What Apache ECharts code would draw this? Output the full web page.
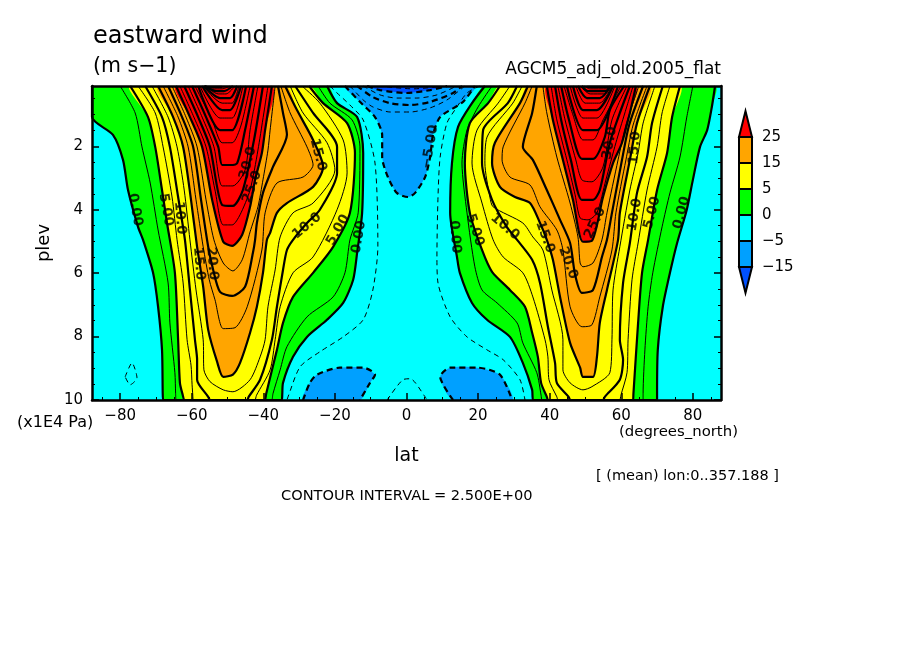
<!DOCTYPE html>
<html><head><meta charset="utf-8">
<style>html,body{margin:0;padding:0;background:#fff}#c{width:904px;height:654px}</style>
<script src="https://cdn.jsdelivr.net/npm/echarts@6/dist/echarts.min.js"></script>
</head><body><div id="c"></div>
<script>
// Axis values
const latMin = -87.86, latMax = 87.86, plevMin = 0.1, plevMax = 10;
const latTicks = [-80,-60,-40,-20,0,20,40,60,80];
const latMinor = [-85,-75,-70,-65,-55,-50,-45,-35,-30,-25,-15,-10,-5,5,10,15,25,30,35,45,50,55,65,70,75,85];
const plevTicks = [2,4,6,8,10];
const plevMinor = [0.5,1,1.5,2.5,3,3.5,4.5,5,5.5,6.5,7,7.5,8.5,9,9.5];
const legendTicks = ['-15','-5','0','5','15','25'];

// Contours: [lat, plev]  (southern hemisphere)
const sh0=[[-87.86,.1],[-87.86,1.08],[-82,1.64],[-79.2,2.43],[-77.8,3.38],[-75,4.54],[-73.6,4.95],[-70.8,5.99],[-69.4,7.06],[-68.3,8.42],[-68.1,9.8],[-68,10],[-67.8,10],[-35,10],[-34.8,10],[-34.7,9.8],[-34.5,9.46],[-31.7,8.64],[-27.8,8.01],[-22.2,7.47],[-17.7,6.94],[-14.9,6.21],[-13.8,5.36],[-12.4,4.1],[-12.1,2.21],[-13.8,1.08],[-19.4,.64],[-22.2,.1]];
const sh2_5=[[-80,.1],[-75.8,.95],[-73.9,2.02],[-71.6,3.16],[-69.4,4.64],[-66.6,6.31],[-66.1,7.57],[-64.7,9.14],[-64.5,9.8],[-64.4,10],[-64.2,10],[-37.8,10],[-37.6,10],[-37.3,9.8],[-35.3,9.05],[-33.4,8.32],[-27.8,7.38],[-20.5,6.75],[-17.2,5.99],[-15.8,4.95],[-13.5,4.1],[-13,2.02],[-15.2,1.17],[-21.4,.64],[-24.7,.1]];
const sh5=[[-77.2,.1],[-72.2,1.08],[-70.2,2.02],[-68.3,3.38],[-66.9,4.42],[-64.7,5.99],[-63.8,8.1],[-63.3,9.46],[-62.5,9.85],[-62.1,10],[-61.9,10],[-39.7,10],[-39.5,10],[-39.2,9.8],[-36.2,8.42],[-34.5,7.57],[-31.7,6.75],[-26.1,5.99],[-20.5,5.17],[-15.8,4.1],[-14.4,2.21],[-16.6,1.27],[-23.3,.64],[-27.2,.1]];
const sh7_5=[[-75,.1],[-70.2,.95],[-68,2.02],[-65.5,3.6],[-64.1,4.95],[-62.4,6.31],[-61.3,8.1],[-60.2,8.9],[-59.9,9.52],[-59.7,9.85],[-59.6,10],[-59.4,10],[-42.5,10],[-42.3,10],[-41.9,9.85],[-38.1,9.05],[-36.7,8.1],[-35.3,7.06],[-31.7,5.99],[-26.1,5.49],[-19.4,4],[-16.6,2.84],[-17.7,1.8],[-24.2,.64],[-29.2,.1]];
const sh10=[[-73,.1],[-68.3,1.08],[-66.1,2.02],[-63.8,3.6],[-61.9,4.95],[-60.5,6.53],[-59.1,8.1],[-58.5,8.73],[-58.5,9.36],[-55.4,9.9],[-54.9,10],[-54.6,10],[-44.8,10],[-44.5,10],[-44.1,9.9],[-40.9,9.36],[-37.6,8.1],[-36.2,7.06],[-34.5,5.9],[-33.4,5.27],[-31.7,4.95],[-27.8,4.42],[-24.2,4],[-19.4,2.84],[-19.4,2.02],[-26.1,.95],[-31.1,.1]];
const sh12_5=[[-71.1,.1],[-66.6,1.08],[-64.1,2.02],[-62.1,3.38],[-60.5,4.95],[-58.8,6.53],[-56.8,8.1],[-56.6,9.05],[-54.9,9.42],[-51.2,9.68],[-48.5,9.74],[-43.7,9.36],[-40.9,8.64],[-39.5,8.1],[-38.7,7.06],[-36.7,5.9],[-35.3,4.86],[-31.7,4.1],[-26.1,3.79],[-20,2.75],[-22.2,1.89],[-28.9,.95],[-32.5,.1]];
const sh15=[[-69.4,.1],[-65.2,1.08],[-62.4,2.02],[-60.2,3.69],[-58.5,5.17],[-56.8,6.43],[-55.4,7.79],[-52.9,8.8],[-51.2,9.27],[-48.5,9.2],[-46.5,8.83],[-43.7,7.88],[-41.8,7.06],[-40.1,5.99],[-39,4.95],[-38.1,4.73],[-36.2,4.1],[-33.4,3.79],[-26.1,3.28],[-23.3,2.65],[-26.1,1.8],[-30.6,.86],[-33.9,.1]];
const sh17_5=[[-68,.1],[-63.8,1.08],[-61,2.02],[-58.8,3.69],[-56.8,5.17],[-55.1,6.21],[-53.5,6.84],[-51.2,7.75],[-47.9,7.72],[-44.5,7.06],[-40.4,5.27],[-39.5,4.1],[-36.2,3.16],[-28.9,2.97],[-26.1,2.59],[-27.8,2.02],[-32.5,.95],[-35.1,.1]];
const sh20=[[-66.6,.1],[-62.7,1.08],[-59.6,2.02],[-57.4,3.69],[-55.4,5.17],[-54,5.9],[-52.1,6.59],[-48.7,6.72],[-45.1,6.43],[-42.9,5.36],[-42.3,4.95],[-41.8,4.42],[-40.1,3.47],[-37.3,2.65],[-33.4,1.64],[-34.5,.95],[-35.9,.1]];
const sh22_5=[[-65.5,.1],[-61.6,1.08],[-58.5,2.02],[-56,3.69],[-53.8,4.95],[-51.2,5.68],[-48.5,5.93],[-45.9,5.58],[-43.7,4.7],[-41.5,3.91],[-40.1,3.06],[-38.7,2.12],[-38.1,1.49],[-36.7,.1]];
const sh25=[[-64.4,.1],[-60.5,1.08],[-57.1,2.02],[-54.3,3.69],[-51.2,5.01],[-48.7,5.14],[-45.9,4.79],[-43.7,3.91],[-42.3,3.06],[-40.4,2.21],[-39.5,1.49],[-37.6,.1]];
const sh27_5=[[-63.3,.1],[-59.4,1.08],[-56,2.02],[-53.5,3.38],[-51.2,4.48],[-48.7,4.48],[-46.5,4.16],[-43.7,3.38],[-41.5,2.12],[-38.7,.1]];
const sh30=[[-62.1,.1],[-58.2,1.08],[-54.9,2.02],[-51.5,3.85],[-48.5,3.88],[-45.7,3.38],[-42.6,1.8],[-40.1,.1]];
const sh32_5=[[-61,.1],[-57.1,1.08],[-53.8,2.02],[-51.5,3.25],[-48.5,3.25],[-45.1,2.75],[-43.7,1.49],[-41.5,.1]];
const sh35=[[-59.9,.1],[-56,1.08],[-52.6,2.02],[-51.5,2.59],[-49.3,2.59],[-47.3,2.53],[-45.1,1.49],[-42.6,.1]];
const sh37_5=[[-59.1,.1],[-54.3,1.17],[-51.5,1.89],[-48.7,1.89],[-46.2,1.33],[-43.7,.1]];
const sh40=[[-58.2,.1],[-52.1,1.49],[-48.7,1.49],[-44.8,.1]];
const sh42_5=[[-57.7,.1],[-52.1,1.11],[-48.7,1.11],[-45.7,.1]];
const sh45=[[-57.1,.1],[-51.5,.86],[-49.3,.86],[-46.2,.1]];
const sh47_5=[[-56.8,.1],[-51.5,.64],[-48.7,.64],[-46.8,.1]];
const sh50=[[-56.6,.1],[-52.1,.48],[-49.3,.48],[-47.3,.1]];
const sh52_5=[[-56.3,.1],[-52.6,.35],[-50.4,.35],[-47.9,.1]];
const sh55=[[-56.3,.1],[-53.2,.26],[-51,.26],[-48.5,.1]];
const sh57_5=[[-56.3,.1],[-54.3,.19],[-51.5,.19],[-49.3,.1]];
const sh60=[[-56.3,.13],[-51.5,.13]];

// northern hemisphere
const nh0=[[21.9,.1],[18.3,.64],[14.4,1.39],[12.7,2.53],[12.2,4.1],[14.1,5.49],[14.9,5.99],[18.3,6.94],[22.5,7.47],[28.9,8.01],[32.5,8.83],[35.1,9.68],[35.2,9.85],[35.3,10],[35.5,10],[69.8,10],[70,10],[70,9.8],[70.2,8.42],[71.6,7.06],[73.6,5.99],[75.6,5.05],[78.3,4],[80,3.06],[82,2.02],[84,1.49],[85.3,.76],[86.2,.1]];
const nh2_5=[[23.9,.1],[20,.76],[16.9,1.49],[15.5,2.53],[16.9,4.1],[19.1,5.8],[21.1,6.53],[25.3,6.94],[30.9,7.57],[32.5,8.2],[36.4,9.14],[37.6,9.85],[37.8,10],[38,10],[65.9,10],[66.1,10],[66.1,9.8],[66.6,8.42],[67.5,7.06],[68.8,5.99],[71.4,4.54],[73.6,3.47],[76.4,2.34],[78.3,1.08],[80,.1]];
const nh5=[[26.1,.1],[22.8,.64],[17.7,1.27],[16.3,2.53],[17.7,4.1],[21.1,5.27],[23.9,5.96],[28.9,6.53],[33.1,7.06],[35.1,7.88],[36.7,8.64],[37.6,9.46],[39.2,9.9],[39.5,10],[39.7,10],[63.1,10],[63.3,10],[63.4,9.8],[64.7,7.57],[65.8,5.99],[67.5,4.95],[70,3.38],[72.8,2.21],[74.2,1.08],[76.4,.1]];
const nh7_5=[[28.9,.1],[25.6,.64],[19.7,1.49],[18.3,2.53],[21.1,3.79],[24.2,4.95],[27,5.49],[32.5,5.99],[35.3,6.75],[38.7,8.1],[39.5,8.64],[39.8,9.36],[42,9.9],[42.3,10],[42.5,10],[59.4,10],[59.6,10],[59.9,9.85],[61.6,9.14],[61.9,8.1],[63,6.21],[64.7,5.05],[67.2,3.38],[70,2.02],[71.4,.95],[73.6,.1]];
const nh10=[[30.9,.1],[28.3,.64],[21.4,1.49],[21.1,2.53],[23.9,3.69],[28,4.54],[30.9,4.95],[35.1,5.58],[37.3,6.31],[39.5,7.69],[41.5,8.83],[42,9.46],[45.3,9.9],[45.7,10],[46,10],[54.6,10],[54.9,10],[55.4,9.9],[59.6,9.36],[60.5,8.73],[59.6,8.1],[60.5,6.31],[62.4,5.05],[64.4,3.47],[67.2,2.34],[68.6,1.27],[71.6,.1]];
const nh12_5=[[32.3,.1],[29.7,.64],[22.5,1.71],[21.9,2.53],[23.3,3.6],[24.2,3.91],[32.5,4.42],[35.3,4.86],[38.1,5.27],[40.6,6.53],[43.7,8.1],[43.7,9.05],[45.7,9.46],[49.3,9.68],[51.8,9.58],[56.8,9.14],[57.4,8.1],[57.7,6.53],[59.6,5.17],[62.4,3.38],[64.7,2.21],[66.1,1.27],[69.4,.1]];
const nh15=[[33.9,.1],[31.7,.64],[24.7,1.89],[23.9,2.53],[26.1,3.28],[30.3,3.6],[34.5,3.79],[37.3,4.42],[39.2,4.95],[40.9,5.58],[42.9,6.75],[45.7,8.2],[48.5,8.98],[49.3,9.27],[52.1,9.27],[53.2,8.64],[54,7.57],[56,6.53],[59.1,4.95],[59.6,4.1],[62.4,2.43],[64.4,1.27],[68,.1]];
const nh17_5=[[35.1,.1],[33.1,.64],[27,2.02],[26.7,2.43],[28.9,2.97],[34.5,3.22],[37.3,3.91],[42,4.64],[43.7,5.27],[45.7,7.06],[49,7.69],[51.8,7.63],[54,6.75],[57.4,5.27],[58.5,4.1],[61.3,2.43],[63.3,1.33],[67.2,.1]];
const nh20=[[36.4,.1],[35.1,.95],[32.5,2.02],[35.3,2.43],[39.2,3.38],[42.9,4.32],[45.7,5.05],[47.1,6.05],[49,6.62],[52.1,6.53],[54.6,5.49],[56,4.95],[57.4,4.1],[60.2,2.43],[62.2,1.33],[66.1,.1]];
const nh22_5=[[38.1,.1],[39.2,.95],[42,2.34],[45.7,3.79],[47.9,4.86],[48.5,5.68],[49.3,5.8],[52.1,5.68],[54.6,4.95],[56,4.1],[59.1,2.43],[61.3,1.33],[64.9,.1]];
const nh25=[[39.2,.1],[40.9,1.17],[43.7,2.43],[46.5,3.69],[49.3,5.01],[51.8,4.98],[54.9,3.6],[57.7,2.53],[60.2,1.89],[62.4,.95],[64.1,.1]];
const nh27_5=[[40.4,.1],[42,1.17],[44.8,2.43],[47.1,3.53],[48.5,4.26],[50.7,4.32],[53.2,4.1],[55.7,3.06],[58.5,1.89],[61,.95],[63.3,.1]];
const nh30=[[41.5,.1],[43.2,1.17],[45.9,2.43],[49,3.69],[52.1,3.69],[54,3.38],[56.8,1.89],[59.6,.95],[62.4,.1]];
const nh32_5=[[42.3,.1],[44.3,1.17],[47.3,2.43],[49,3.06],[51.8,3.12],[54.9,2.65],[57.4,1.17],[61.6,.1]];
const nh35=[[43.2,.1],[45.4,1.17],[49,2.4],[52.1,2.4],[55.4,1.71],[56.8,.86],[60.8,.1]];
const nh37_5=[[44,.1],[46.5,1.01],[49.3,1.8],[52.1,1.8],[54.9,1.17],[59.9,.1]];
const nh40=[[44.8,.1],[49.3,1.49],[53.2,1.49],[59.1,.1]];
const nh42_5=[[45.7,.1],[49.3,1.11],[53.2,1.11],[58.2,.1]];
const nh45=[[46.5,.1],[49.3,.86],[53.2,.86],[57.7,.1]];
const nh47_5=[[47.3,.1],[49.9,.64],[54,.64],[57.4,.1]];
const nh50=[[47.9,.1],[50.4,.48],[54,.48],[57.1,.1]];
const nh52_5=[[48.5,.1],[51.3,.35],[55.2,.35],[56.8,.1]];
const nh55=[[49,.1],[50.7,.26],[55.7,.26],[56.8,.1]];
const nh57_5=[[49.6,.1],[51.3,.19],[56,.19],[56.6,.1]];
const nh60=[[50.4,.13],[56.3,.13]];

// easterlies
const neg2_5a=[[-21.4,.1],[-19.4,.32],[-15.8,.7],[-12.1,1.17],[-8.8,2.53],[-8,5.17],[-9.4,6.53],[-12.1,7.47],[-17.7,8.01],[-24.2,8.48],[-29.7,8.95],[-33.1,9.9],[-33.4,10]];
const neg2_5b=[[20.5,.1],[16.9,.32],[14.1,.76],[11.3,1.27],[9.4,2.34],[8.8,3.6],[8.5,5.49],[8.8,6.31],[12.2,7.38],[16.9,8.01],[22.5,8.42],[27,8.73],[31.7,9.36],[33.1,10]];
const neg2_5c=[[-5.4,10],[-1,9.36],[1,9.33],[5.2,9.9],[5.7,10]];
const neg2_5d=[[-78.6,9.27],[-76.7,8.83],[-75.3,9.3],[-77.2,9.52],[-78.6,9.27]];
const neg5a=[[-17.2,.1],[-13,.6],[-8.8,1.08],[-6.8,1.64],[-6.8,2.34],[-5.2,2.97],[-2.7,3.47],[.4,3.6],[2.4,3.47],[5.2,2.97],[6.6,2.34],[7.4,1.64],[9.4,1.08],[15.8,.6],[19.1,.1]];
const neg5b=[[-28.9,10],[-27,9.46],[-25,9.2],[-18.6,8.98],[-12.1,8.98],[-8.8,9.2],[-10.2,9.46],[-13,10]];
const neg5c=[[13,10],[9.4,9.27],[12.2,8.98],[19.7,8.98],[26.1,9.2],[29.5,10]];
const neg7_5=[[-15.8,.1],[-12.1,.54],[-9.4,.76],[-4.6,.92],[1,.92],[6.6,.79],[11.3,.54],[16.3,.1]];
const neg10=[[-13.8,.1],[-9.4,.45],[-4.6,.64],[1,.7],[6.6,.6],[13,.32],[15.5,.1]];
const neg12_5=[[-12.1,.1],[-7.4,.38],[-2.7,.48],[2.9,.48],[8.5,.38],[14,.1]];
const neg15=[[-11,.1],[-7.4,.23],[.1,.32],[6.6,.23],[11.3,.1]];
const neg17_5=[[-5.4,.13],[1.8,.19],[8.5,.13]];

// Contour labels
const labelTexts=['0.00','5.00','10.0','15.0','20.0','25.0','30.0','15.0','10.0','5.00','0.00','−5.00','0.00','5.00','10.0','15.0','20.0','25.0','30.0','15.0','10.0','5.00','0.00'];
const labelLats=[-75.8,-67.2,-63.3,-58,-54.3,-43.1,-44.3,-24.7,-27.8,-19.1,-13.3,6.6,13.5,19.1,27.5,38.7,45.1,52.7,56.8,63.8,63.8,68.6,76.9];
const labelPlevs=[4,4,4.26,5.7,5.7,3.28,2.53,2.27,4.51,4.64,4.86,2.02,4.86,4.64,4.54,4.86,5.68,4.42,1.9,2.05,4.16,4.1,4.1];
const labelAngles=[-80,-80,-85,-85,-85,70,75,-75,40,60,80,80,-85,-72,-40,-70,-70,65,80,85,80,75,75];

const contourTable=[
 [0,sh0],[2.5,sh2_5],[5,sh5],[7.5,sh7_5],[10,sh10],[12.5,sh12_5],[15,sh15],[17.5,sh17_5],[20,sh20],[22.5,sh22_5],[25,sh25],[27.5,sh27_5],[30,sh30],[32.5,sh32_5],[35,sh35],[37.5,sh37_5],[40,sh40],[42.5,sh42_5],[45,sh45],[47.5,sh47_5],[50,sh50],[52.5,sh52_5],[55,sh55],[57.5,sh57_5],[60,sh60],
 [0,nh0],[2.5,nh2_5],[5,nh5],[7.5,nh7_5],[10,nh10],[12.5,nh12_5],[15,nh15],[17.5,nh17_5],[20,nh20],[22.5,nh22_5],[25,nh25],[27.5,nh27_5],[30,nh30],[32.5,nh32_5],[35,nh35],[37.5,nh37_5],[40,nh40],[42.5,nh42_5],[45,nh45],[47.5,nh47_5],[50,nh50],[52.5,nh52_5],[55,nh55],[57.5,nh57_5],[60,nh60],
 [-2.5,neg2_5a],[-2.5,neg2_5b],[-2.5,neg2_5c],[-2.5,neg2_5d],[-5,neg5a],[-5,neg5b],[-5,neg5c],[-7.5,neg7_5],[-10,neg10],[-12.5,neg12_5],[-15,neg15],[-17.5,neg17_5]
];
const fillTable=[
 ['#00ff00',sh0],['#00ff00',nh0],['#ffff00',sh5],['#ffff00',nh5],['#ffa500',sh15],['#ffa500',nh15],['#ff0000',sh25],['#ff0000',nh25],
 ['#00a0ff',neg5a],['#00a0ff',neg5b],['#00a0ff',neg5c],['#0050ff',neg15]
];
const legendColors=['#0050ff','#00a0ff','#00ffff','#00ff00','#ffff00','#ffa500','#ff0000'];

const FONT='"DejaVu Sans", sans-serif';
const SMOOTH=0.25;
const minus=s=>String(s).replace('-','−');

const series=[];
series.push({type:'custom',coordinateSystem:'cartesian2d',xAxisIndex:0,yAxisIndex:0,z:1,silent:true,clip:true,animation:false,
  data:fillTable.map((f,i)=>[i]),
  renderItem:(p,api)=>{const f=fillTable[api.value(0)];
    return {type:'polygon',shape:{points:f[1].map(c=>api.coord(c)),smooth:SMOOTH},style:{fill:f[0],stroke:null}};}});
contourTable.forEach(([lev,pts])=>{
  const thick=lev%5===0;
  series.push({type:'line',xAxisIndex:0,yAxisIndex:0,z:2,silent:true,animation:false,showSymbol:false,symbol:'none',smooth:SMOOTH,
    data:pts,lineStyle:{color:'#000',width:thick?2.2:1,type:lev<0?(thick?[6,4]:[5,4]):'solid',join:'bevel'}});
});
series.push({type:'scatter',xAxisIndex:0,yAxisIndex:0,z:3,silent:true,animation:false,symbolSize:0,
  data:labelTexts.map((t,i)=>({value:[labelLats[i],labelPlevs[i]],name:t,
    label:{show:true,position:'inside',formatter:t,rotate:labelAngles[i],color:'#000',fontSize:13.5,fontWeight:'bold',fontFamily:FONT}}))});
series.push({type:'custom',coordinateSystem:'cartesian2d',xAxisIndex:3,yAxisIndex:4,z:4,silent:true,clip:false,animation:false,
  data:legendColors.map((c,i)=>[i-1]),
  renderItem:(p,api)=>{const i=api.value(0);
    const a=api.coord([0,i]),b=api.coord([1,i]),c=api.coord([1,i+1]),d=api.coord([0,i+1]),n=api.coord([.5,i+1]);
    const pts=i<0?[d,c,api.coord([.5,i])]:i>=5?[a,b,n]:[a,b,c,d];
    return {type:'polygon',shape:{points:pts},style:{fill:legendColors[i+1],stroke:'#000',lineWidth:2}};}});

const hiddenAxis={axisLine:{show:false,onZero:false},axisTick:{show:false},axisLabel:{show:false},splitLine:{show:false}};
const blackLine={show:true,onZero:false,lineStyle:{color:'#000',width:2.5}};
const opt={
 animation:false,
 backgroundColor:'#fff',
 textStyle:{fontFamily:FONT,color:'#000'},
 grid:[{left:92,top:86,width:629,height:314,show:true,backgroundColor:'#00ffff',borderWidth:0},
       {left:739,top:111,width:13,height:182,show:false}],
 xAxis:[
  {type:'value',gridIndex:0,min:latMin,max:latMax,position:'bottom',z:10,name:'lat',nameLocation:'middle',nameGap:47,
   nameTextStyle:{fontSize:19,color:'#000',fontFamily:FONT},
   axisLine:blackLine,splitLine:{show:false},
   axisTick:{show:true,inside:true,length:7,lineStyle:{color:'#000',width:1.5},customValues:latTicks},
   axisLabel:{show:true,margin:9,fontSize:15,color:'#000',fontFamily:FONT,customValues:latTicks,formatter:minus}},
  {type:'value',gridIndex:0,min:latMin,max:latMax,position:'bottom',z:10,...hiddenAxis,
   axisTick:{show:true,inside:true,length:3,lineStyle:{color:'#000',width:1},customValues:latMinor}},
  {type:'value',gridIndex:0,min:latMin,max:latMax,position:'top',z:10,...hiddenAxis,axisLine:blackLine},
  {type:'value',gridIndex:1,min:0,max:1,...hiddenAxis}
 ],
 yAxis:[
  {type:'value',gridIndex:0,min:plevMin,max:plevMax,inverse:true,position:'left',z:10,name:'plev',nameLocation:'middle',nameGap:33,
   nameRotate:90,nameTextStyle:{fontSize:18,color:'#000',fontFamily:FONT},
   axisLine:blackLine,splitLine:{show:false},
   axisTick:{show:false,customValues:plevTicks},
   axisLabel:{show:true,margin:9,fontSize:15,color:'#000',fontFamily:FONT,customValues:plevTicks}},
  {type:'value',gridIndex:0,min:plevMin,max:plevMax,inverse:true,position:'left',z:10,...hiddenAxis,
   axisTick:{show:true,inside:true,length:7,lineStyle:{color:'#000',width:1.5},customValues:plevTicks}},
  {type:'value',gridIndex:0,min:plevMin,max:plevMax,inverse:true,position:'left',z:10,...hiddenAxis,
   axisTick:{show:true,inside:true,length:3,lineStyle:{color:'#000',width:1},customValues:plevMinor}},
  {type:'value',gridIndex:0,min:plevMin,max:plevMax,inverse:true,position:'right',z:10,...hiddenAxis,axisLine:blackLine,
   axisTick:{show:true,inside:true,length:7,lineStyle:{color:'#000',width:1.5},customValues:plevTicks}},
  {type:'value',gridIndex:1,min:-1,max:6,interval:1,position:'right',...hiddenAxis,
   axisLabel:{show:true,margin:10,fontSize:15,color:'#000',fontFamily:FONT,padding:[2,0,0,0],
     formatter:v=>{const s=legendTicks[Math.round(v)];return s===undefined?'':minus(s);}}},
  {type:'value',gridIndex:0,min:plevMin,max:plevMax,inverse:true,position:'right',z:10,...hiddenAxis,
   axisTick:{show:true,inside:true,length:3,lineStyle:{color:'#000',width:1},customValues:plevMinor}}
 ],
 graphic:[
  {type:'text',left:93,top:25,style:{text:'eastward wind',font:'24px '+FONT,fill:'#000'}},
  {type:'text',left:93,top:56,style:{text:'(m s−1)',font:'20.5px '+FONT,fill:'#000'}},
  {type:'text',right:183,top:61,style:{text:'AGCM5_adj_old.2005_flat',font:'17px '+FONT,fill:'#000'}},
  {type:'text',left:17,top:415,style:{text:'(x1E4 Pa)',font:'16px '+FONT,fill:'#000'}},
  {type:'text',left:619,top:425,style:{text:'(degrees_north)',font:'14.9px '+FONT,fill:'#000'}},
  {type:'text',left:596,top:469,style:{text:'[ (mean) lon:0..357.188 ]',font:'14.5px '+FONT,fill:'#000'}},
  {type:'text',left:281,top:489,style:{text:'CONTOUR INTERVAL = 2.500E+00',font:'14.6px '+FONT,fill:'#000'}}
 ],
 series
};
const chart=echarts.init(document.getElementById('c'),null,{renderer:'canvas',width:904,height:654});
chart.setOption(opt);
</script></body></html>
